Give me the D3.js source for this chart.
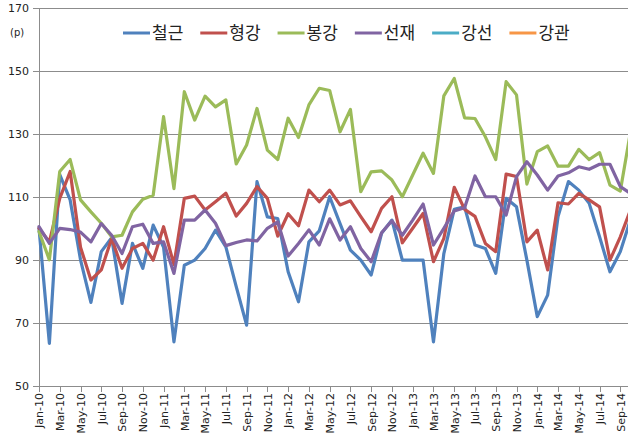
<!DOCTYPE html>
<html><head><meta charset="utf-8">
<script src="https://cdn.jsdelivr.net/npm/d3@7/dist/d3.min.js"></script>
<style>
html,body{margin:0;padding:0;background:#fff;overflow:hidden}
svg{display:block}
</style></head>
<body><svg id="c" width="628" height="437"></svg>
<script>
const months = ["Jan-10","Feb-10","Mar-10","Apr-10","May-10","Jun-10","Jul-10","Aug-10","Sep-10","Oct-10","Nov-10","Dec-10",
"Jan-11","Feb-11","Mar-11","Apr-11","May-11","Jun-11","Jul-11","Aug-11","Sep-11","Oct-11","Nov-11","Dec-11",
"Jan-12","Feb-12","Mar-12","Apr-12","May-12","Jun-12","Jul-12","Aug-12","Sep-12","Oct-12","Nov-12","Dec-12",
"Jan-13","Feb-13","Mar-13","Apr-13","May-13","Jun-13","Jul-13","Aug-13","Sep-13","Oct-13","Nov-13","Dec-13",
"Jan-14","Feb-14","Mar-14","Apr-14","May-14","Jun-14","Jul-14","Aug-14","Sep-14","Oct-14"];

const rebar = [100,63.5,117,109,90,76.5,92.6,97,76.2,95.2,87.3,101,94,64,88.3,89.9,93.6,99.4,94.1,81.5,69.3,114.8,103.6,103.1,86.2,76.7,95.7,99.2,110,101.5,93.1,89.9,85.2,98.4,102.6,89.9,89.9,89.9,64,92,106,106.8,94.7,93.6,85.7,109.5,106.8,89.9,72,78.8,103.7,114.8,112.1,107.9,97.3,86.2,92.6,103];
const sections = [100,95.7,109.5,118,94,83.6,86.8,96.8,87.3,93.6,95.2,89.9,100.5,88.5,109.5,110.2,105.8,108.4,111.1,103.9,107.9,113.2,109.5,97.5,104.6,100.8,112.1,108.4,112.1,107.4,108.7,103.7,98.9,106.3,110,95.4,100,104.7,89.4,96.8,113,106,103.8,95.2,92.6,117.2,116.4,95.7,99.4,86.8,108.1,107.7,111.1,109,106.8,89.9,97.3,106];
const bars = [99,90,118,121.8,109,105.2,101.6,97.3,97.8,105.2,109.2,110.5,135.4,112.6,143.3,134.3,141.9,138.5,140.7,120.4,126.4,138,124.8,121.8,134.9,128.8,139.1,144.4,143.7,130.6,137.7,111.6,117.9,118.2,115.3,110,116.9,123.8,117.4,142,147.5,135,134.8,129,121.8,146.5,142.3,114,124.3,126.1,119.7,119.7,125,121.8,124,113.7,111.8,131];
const wireRod = [100.5,95.2,100,99.6,98.8,95.7,101.5,97.8,92,100.5,101.3,95.2,95.7,85.7,102.6,102.6,105.8,101.6,94.5,95.5,96.3,96,100,102,91.2,95.2,99.5,94.7,103,96.3,100.5,93.6,89.4,98.6,102.4,97.8,102.6,107.7,94.7,100,105.5,106.5,116.6,110,110,104.2,116.4,121.1,116.9,112.1,116.6,117.6,119.5,118.7,120.3,120.3,113.2,111];
const wire = [];
const pipe = [];

const seriesNames = ["철근","형강","봉강","선재","강선","강관"];
const seriesColors = ["#4F81BD","#C0504D","#9BBB59","#8064A2","#4BACC6","#F79646"];
const seriesValues = [rebar, sections, bars, wireRod, wire, pipe];
const yTicks = [50,70,90,110,130,150,170];
const xLabels = months.filter((m,i)=>i%2===0);

const svg = d3.select("#c");
const x = d3.scalePoint().domain(months).range([39, 630.7]);
const y = d3.scaleLinear().domain([50,170]).range([386, 7.5]);

// gridlines
svg.append("g").attr("transform","translate(39,0)")
  .call(d3.axisLeft(y).tickValues(yTicks).tickSize(-600).tickFormat(""))
  .call(g=>g.select(".domain").remove())
  .call(g=>g.selectAll("line").attr("stroke","#8c8c8c").attr("stroke-width",1).attr("shape-rendering","crispEdges"));

// y axis
const ya = svg.append("g").attr("transform","translate(39,0)")
  .call(d3.axisLeft(y).tickValues(yTicks).tickSize(6).tickPadding(4));
ya.select(".domain").attr("stroke","#8c8c8c").attr("shape-rendering","crispEdges");
ya.selectAll("line").attr("stroke","#8c8c8c").attr("shape-rendering","crispEdges");
ya.selectAll("text").attr("font-family","DejaVu Sans").attr("font-size","11px").attr("fill","#222");

// x axis
const xa = svg.append("g").attr("transform","translate(0,386)")
  .call(d3.axisBottom(x).tickValues(xLabels).tickSize(6).tickSizeOuter(0));
xa.select(".domain").attr("stroke","#8c8c8c").attr("shape-rendering","crispEdges");
xa.selectAll("line").attr("stroke","#8c8c8c").attr("shape-rendering","crispEdges");
xa.selectAll("text").attr("font-family","DejaVu Sans").attr("font-size","11px").attr("fill","#222")
  .attr("transform","rotate(-90)").attr("text-anchor","end")
  .attr("x",-7).attr("y",0).attr("dy","0.35em");

// (p)
svg.append("text").attr("x",10).attr("y",36).text("(p)")
  .attr("font-family","DejaVu Sans").attr("font-size","10px").attr("fill","#222");

// lines
const line = d3.line().defined(d=>d!=null).x((d,i)=>x(months[i])).y(d=>y(d));
seriesValues.forEach((vals,k)=>{
  if(!vals.length) return;
  svg.append("path").datum(vals).attr("d",line).attr("fill","none")
    .attr("stroke",seriesColors[k]).attr("stroke-width",3.2)
    .attr("stroke-linejoin","round").attr("stroke-linecap","round");
});

// legend
let lx = 123;
const lg = svg.append("g");
seriesNames.forEach((n,k)=>{
  lg.append("line").attr("x1",lx).attr("x2",lx+27).attr("y1",33).attr("y2",33)
    .attr("stroke",seriesColors[k]).attr("stroke-width",3);
  const t = lg.append("text").attr("x",lx+29).attr("y",33).attr("dy","0.35em").text(n)
    .attr("font-family","Noto Sans CJK KR").attr("font-size","17px").attr("fill","#222");
  lx = lx + 29 + t.node().getComputedTextLength() + 17;
});
</script></body></html>
